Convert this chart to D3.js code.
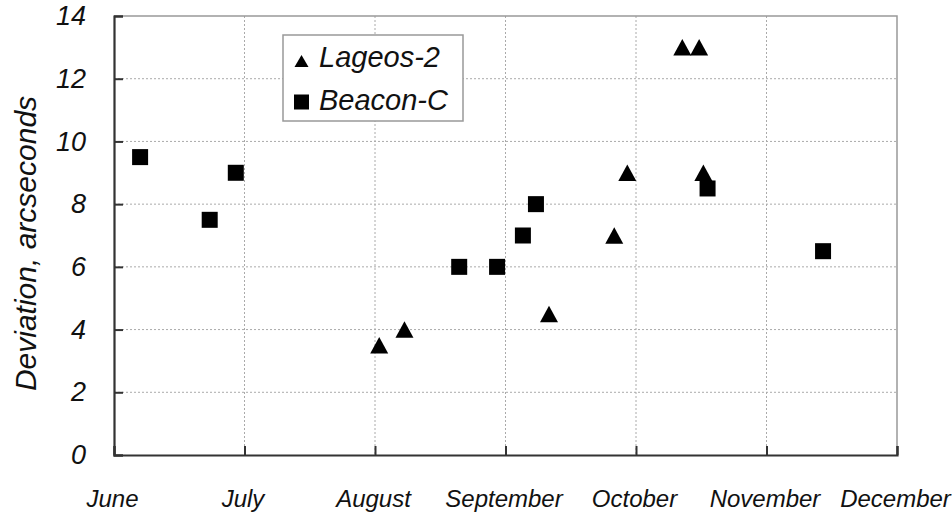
<!DOCTYPE html>
<html>
<head>
<meta charset="utf-8">
<script src="https://cdn.jsdelivr.net/npm/d3@7"></script>
<style>
  html, body { margin: 0; padding: 0; background: #fff; }
  svg { display: block; font-family: "Liberation Sans", Arial, sans-serif; font-style: italic; }
</style>
</head>
<body>
<svg id="chart" width="952" height="515"></svg>
<script>
// ---- data ----
const months = ["June", "July", "August", "September", "October", "November", "December"];
const monthDays = [30, 31, 31, 30, 31, 30, 31];
const yTicks = [0, 2, 4, 6, 8, 10, 12, 14];

const lageosDates  = ["08-02", "08-08", "09-11", "09-26", "09-29", "10-12", "10-16", "10-17"];
const lageosValues = [3.5, 4.0, 4.5, 7.0, 9.0, 13.0, 13.0, 9.0];

const beaconDates  = ["06-07", "06-23", "06-29", "08-21", "08-30", "09-05", "09-08", "10-18", "11-14"];
const beaconValues = [9.5, 7.5, 9.0, 6.0, 6.0, 7.0, 8.0, 8.5, 6.5];

const seriesNames = ["Lageos-2", "Beacon-C"];

// convert "MM-DD" to a month position (June = 0)
function monthPos(s) {
  const [m, d] = s.split("-").map(Number);
  const idx = m - 6;
  return idx + (d - 1) / monthDays[idx];
}

const lageos = lageosDates.map((d, i) => ({ x: monthPos(d), y: lageosValues[i] }));
const beacon = beaconDates.map((d, i) => ({ x: monthPos(d), y: beaconValues[i] }));

// ---- layout ----
const svg = d3.select("#chart");
const pL = 114, pR = 897, pT = 16, pB = 455;

const x = d3.scaleLinear().domain([0, months.length - 1]).range([pL, pR]);
const y = d3.scaleLinear().domain([0, 14]).range([pB, pT]);

const axisColor = "#333";
const gridColor = "#aaa";

// grid
const grid = svg.append("g");
grid.selectAll("line.h").data(yTicks.filter(t => t > 0 && t < 14)).join("line")
  .attr("x1", pL).attr("x2", pR)
  .attr("y1", d => y(d)).attr("y2", d => y(d))
  .attr("stroke", gridColor).attr("stroke-width", 1).attr("stroke-dasharray", "2,2");
grid.selectAll("line.v").data(d3.range(1, months.length - 1)).join("line")
  .attr("x1", d => x(d)).attr("x2", d => x(d))
  .attr("y1", pT).attr("y2", pB)
  .attr("stroke", gridColor).attr("stroke-width", 1).attr("stroke-dasharray", "2,2");

// top & right border
svg.append("path")
  .attr("d", `M${pL},${pT}H${pR}V${pB}`)
  .attr("fill", "none").attr("stroke", "#999").attr("stroke-width", 1.5);

// y axis
const yAxis = svg.append("g")
  .attr("transform", `translate(${pL},0)`)
  .call(d3.axisLeft(y).tickValues(yTicks).tickSize(-9).tickPadding(28).tickFormat(d => d));
yAxis.select(".domain").attr("stroke", axisColor).attr("stroke-width", 2.2);
yAxis.selectAll(".tick line").attr("stroke", axisColor).attr("stroke-width", 2);
yAxis.selectAll(".tick text")
  .attr("font-size", 27).attr("fill", "#111")
  .attr("font-family", "'Liberation Sans', Arial, sans-serif")
  .attr("font-style", "italic");

// x axis
const xAxis = svg.append("g")
  .attr("transform", `translate(0,${pB})`)
  .call(d3.axisBottom(x).tickValues(d3.range(months.length)).tickSize(-9).tickPadding(0)
    .tickFormat(i => months[i]));
xAxis.select(".domain").attr("stroke", axisColor).attr("stroke-width", 2.2);
xAxis.selectAll(".tick line").attr("stroke", axisColor).attr("stroke-width", 2);
xAxis.selectAll(".tick text")
  .attr("x", -2).attr("y", 52).attr("dy", 0)
  .attr("font-size", 24).attr("fill", "#111")
  .attr("font-family", "'Liberation Sans', Arial, sans-serif")
  .attr("font-style", "italic");

// y title
svg.append("text")
  .attr("transform", `translate(36,${(95 + 392) / 2}) rotate(-90)`)
  .attr("text-anchor", "middle")
  .attr("font-size", 30).attr("fill", "#111")
  .text("Deviation, arcseconds");

// markers
const tri = (w, h) => `M0,${-h / 2}L${w / 2},${h / 2}L${-w / 2},${h / 2}Z`;
svg.append("g").selectAll("path").data(lageos).join("path")
  .attr("transform", d => `translate(${x(d.x)},${y(d.y)})`)
  .attr("d", tri(18, 16.5))
  .attr("fill", "#000");
svg.append("g").selectAll("rect").data(beacon).join("rect")
  .attr("x", d => x(d.x) - 8).attr("y", d => y(d.y) - 8)
  .attr("width", 16).attr("height", 16)
  .attr("fill", "#000");

// legend
const lg = svg.append("g");
lg.append("rect").attr("x", 283).attr("y", 35).attr("width", 180).attr("height", 86)
  .attr("fill", "#fff").attr("stroke", "#999").attr("stroke-width", 1.5);
lg.append("path").attr("transform", "translate(301.5,61)").attr("d", tri(14, 12)).attr("fill", "#000");
lg.append("rect").attr("x", 294).attr("y", 94.5).attr("width", 15).attr("height", 15).attr("fill", "#000");
lg.selectAll("text").data(seriesNames).join("text")
  .attr("x", 319).attr("y", (d, i) => i === 0 ? 67 : 110)
  .attr("font-size", 29).attr("fill", "#111")
  .text(d => d);
</script>
</body>
</html>
